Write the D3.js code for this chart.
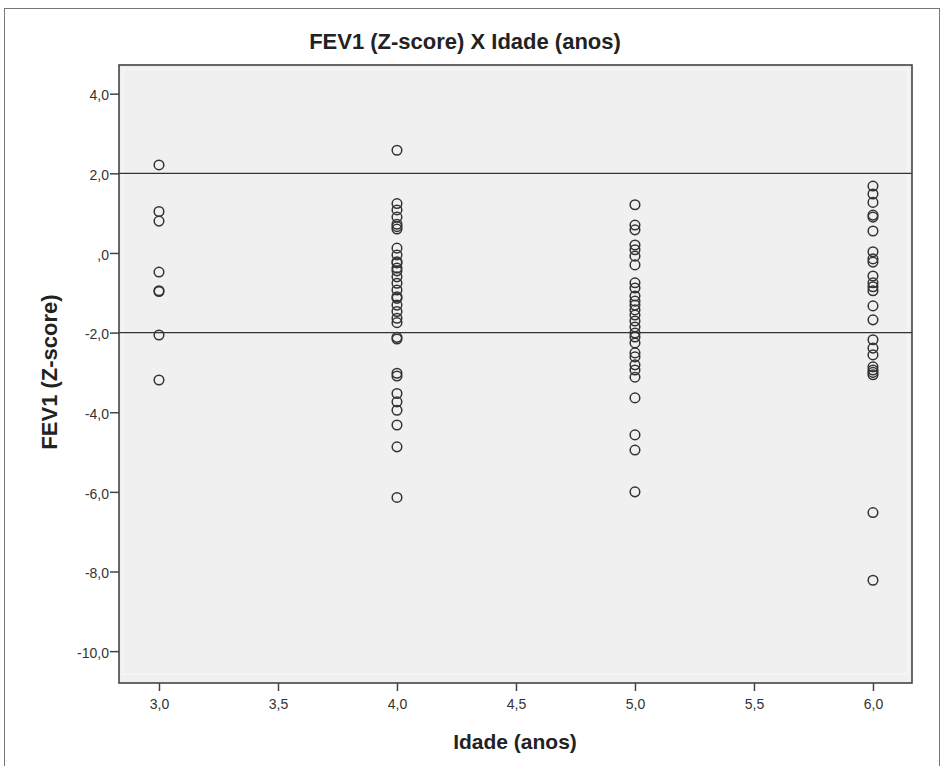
<!DOCTYPE html>
<html>
<head>
<meta charset="utf-8">
<script src="https://cdn.jsdelivr.net/npm/d3@7"></script>
<style>
  body { margin: 0; background: #fff; }
  text { font-family: "Liberation Sans", Arial, sans-serif; }
</style>
</head>
<body>
<div class="container"></div>
<script>
// idade (anos) -> FEV1 z-score
var age3 = [2.21, 1.04, 0.80, -0.48, -0.95, -0.97, -2.06, -3.19];
var age4 = [2.58, 1.24, 1.08, 0.9, 0.72, 0.66, 0.6, 0.12, -0.05, -0.22, -0.25, -0.38, -0.45,
            -0.6, -0.76, -0.93, -1.1, -1.14, -1.31, -1.47, -1.64, -1.75,
            -2.12, -2.16, -3.02, -3.09, -3.53, -3.74, -3.95, -4.32, -4.87, -6.14];
var age5 = [1.21, 0.70, 0.58, 0.2, 0.08, -0.08, -0.3, -0.75, -0.88, -1.08, -1.21, -1.31,
            -1.43, -1.56, -1.71, -1.86, -2.01, -2.11, -2.26, -2.51, -2.61, -2.81, -2.94,
            -3.12, -3.64, -4.57, -4.95, -6.0];
var age6 = [1.68, 1.48, 1.27, 0.95, 0.9, 0.55, 0.03, -0.15, -0.23, -0.58, -0.75, -0.85,
            -0.95, -1.33, -1.68, -2.18, -2.39, -2.56, -2.86, -2.94, -3.0, -3.06, -6.52, -8.22];
var ages = [3, 4, 5, 6];
var groups = [age3, age4, age5, age6];
var refLines = [2, -2];
var xTicks = [3, 3.5, 4, 4.5, 5, 5.5, 6];
var yTicks = [4, 2, 0, -2, -4, -6, -8, -10];

var width = 942, height = 766;
var margin = {top: 65, right: 30, bottom: 83, left: 119};

var svg = d3.select("div.container").append("svg")
    .attr("width", width)
    .attr("height", height);

// outer frame
svg.append("rect")
    .attr("x", 4.5).attr("y", 8.5)
    .attr("width", 935).attr("height", 770)
    .attr("fill", "none")
    .attr("stroke", "#777")
    .attr("stroke-width", 1);

var x = d3.scaleLinear().domain([2.832, 6.164]).range([margin.left, width - margin.right]);
var y = d3.scaleLinear().domain([-10.8, 4.72]).range([height - margin.bottom, margin.top]);

var fmt = function(d) {
    var s = d3.format(".1f")(d).replace(".", ",").replace("−", "-");
    if (d === 0) s = ",0";
    return s;
};

// plot background
svg.append("rect")
    .attr("x", x.range()[0]).attr("y", y.range()[1])
    .attr("width", x.range()[1] - x.range()[0])
    .attr("height", y.range()[0] - y.range()[1])
    .attr("fill", "#f0f0f0");

// faint inner border (spss style)
svg.append("rect")
    .attr("x", x.range()[0] + 4).attr("y", y.range()[1] + 4)
    .attr("width", x.range()[1] - x.range()[0] - 8)
    .attr("height", y.range()[0] - y.range()[1] - 13)
    .attr("fill", "none")
    .attr("stroke", "#fafafa")
    .attr("stroke-width", 1);

// reference lines
svg.selectAll(".ref")
    .data(refLines)
    .enter().append("line")
    .attr("class", "ref")
    .attr("x1", x.range()[0]).attr("x2", x.range()[1])
    .attr("y1", function(d) { return y(d); })
    .attr("y2", function(d) { return y(d); })
    .attr("stroke", "#333")
    .attr("stroke-width", 1.3);

// points
var pts = [];
groups.forEach(function(g, i) {
    g.forEach(function(v) { pts.push({age: ages[i], z: v}); });
});

svg.selectAll(".pt")
    .data(pts)
    .enter().append("circle")
    .attr("class", "pt")
    .attr("cx", function(d) { return x(d.age); })
    .attr("cy", function(d) { return y(d.z); })
    .attr("r", 4.8)
    .attr("fill", "none")
    .attr("stroke", "#333")
    .attr("stroke-width", 1.5);

// axes
var xAxis = svg.append("g")
    .attr("transform", "translate(0," + y.range()[0] + ")")
    .call(d3.axisBottom(x).tickValues(xTicks).tickFormat(fmt).tickSize(8).tickPadding(8));
var yAxis = svg.append("g")
    .attr("transform", "translate(" + x.range()[0] + ",0)")
    .call(d3.axisLeft(y).tickValues(yTicks).tickFormat(fmt).tickSize(9).tickPadding(1));

[xAxis, yAxis].forEach(function(a) {
    a.select(".domain").remove();
    a.selectAll(".tick line").attr("stroke", "#444").attr("stroke-width", 1.5);
    a.selectAll(".tick text")
        .attr("fill", "#333")
        .style("font-size", "14px")
        .style("font-family", "'Liberation Sans', Arial, sans-serif");
});
yAxis.selectAll(".tick text").attr("dy", "0.45em");

// plot frame
svg.append("rect")
    .attr("x", x.range()[0]).attr("y", y.range()[1])
    .attr("width", x.range()[1] - x.range()[0])
    .attr("height", y.range()[0] - y.range()[1])
    .attr("fill", "none")
    .attr("stroke", "#444")
    .attr("stroke-width", 1.6);

// title + labels
svg.append("text")
    .attr("x", 465).attr("y", 49)
    .attr("text-anchor", "middle")
    .style("font-size", "22px").style("font-weight", "bold")
    .attr("fill", "#222")
    .text("FEV1 (Z-score) X Idade (anos)");

svg.append("text")
    .attr("x", 515).attr("y", 749)
    .attr("text-anchor", "middle")
    .style("font-size", "21px").style("font-weight", "bold")
    .attr("fill", "#222")
    .text("Idade (anos)");

svg.append("text")
    .attr("transform", "translate(57,372) rotate(-90)")
    .attr("text-anchor", "middle")
    .style("font-size", "22px").style("font-weight", "bold")
    .attr("fill", "#222")
    .text("FEV1 (Z-score)");
</script>
</body>
</html>
